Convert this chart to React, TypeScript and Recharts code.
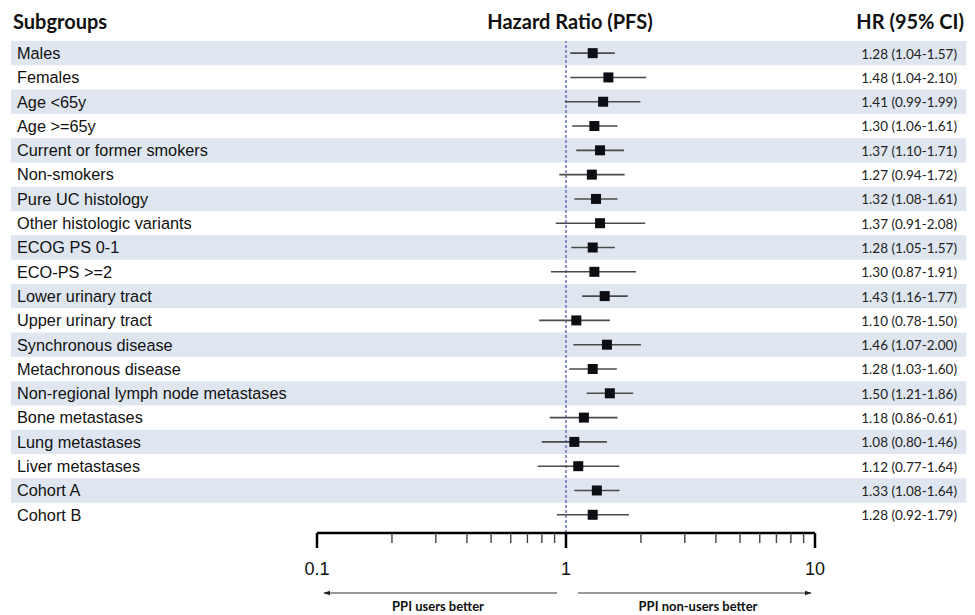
import React from "react"
import {
  ScatterChart,
  Scatter,
  XAxis,
  YAxis,
  ErrorBar,
  ReferenceArea,
  ReferenceLine,
} from "recharts"

const subgroups = [
  "Males",
  "Females",
  "Age <65y",
  "Age >=65y",
  "Current or former smokers",
  "Non-smokers",
  "Pure UC histology",
  "Other histologic variants",
  "ECOG PS 0-1",
  "ECO-PS >=2",
  "Lower urinary tract",
  "Upper urinary tract",
  "Synchronous disease",
  "Metachronous disease",
  "Non-regional lymph node metastases",
  "Bone metastases",
  "Lung metastases",
  "Liver metastases",
  "Cohort A",
  "Cohort B",
]

const hr = [1.28, 1.48, 1.41, 1.3, 1.37, 1.27, 1.32, 1.37, 1.28, 1.3, 1.43, 1.1, 1.46, 1.28, 1.5, 1.18, 1.08, 1.12, 1.33, 1.28]
const ciLow = [1.04, 1.04, 0.99, 1.06, 1.1, 0.94, 1.08, 0.91, 1.05, 0.87, 1.16, 0.78, 1.07, 1.03, 1.21, 0.86, 0.8, 0.77, 1.08, 0.92]
// bone metastases whisker is drawn up to ~1.61 in the picture
const ciHigh = [1.57, 2.1, 1.99, 1.61, 1.71, 1.72, 1.61, 2.08, 1.57, 1.91, 1.77, 1.5, 2.0, 1.6, 1.86, 1.61, 1.46, 1.64, 1.64, 1.79]

const hrLabels = [
  "1.28 (1.04-1.57)",
  "1.48 (1.04-2.10)",
  "1.41 (0.99-1.99)",
  "1.30 (1.06-1.61)",
  "1.37 (1.10-1.71)",
  "1.27 (0.94-1.72)",
  "1.32 (1.08-1.61)",
  "1.37 (0.91-2.08)",
  "1.28 (1.05-1.57)",
  "1.30 (0.87-1.91)",
  "1.43 (1.16-1.77)",
  "1.10 (0.78-1.50)",
  "1.46 (1.07-2.00)",
  "1.28 (1.03-1.60)",
  "1.50 (1.21-1.86)",
  "1.18 (0.86-0.61)",
  "1.08 (0.80-1.46)",
  "1.12 (0.77-1.64)",
  "1.33 (1.08-1.64)",
  "1.28 (0.92-1.79)",
]

const xTicks = [0.1, 0.2, 0.3, 0.4, 0.5, 0.6, 0.7, 0.8, 0.9, 1, 2, 3, 4, 5, 6, 7, 8, 9, 10]
const majorTicks = [0.1, 1, 10]
const rowTicks = subgroups.map((_, i) => i)

const data = subgroups.map((name, i) => ({
  idx: i,
  name,
  hr: hr[i],
  err: [hr[i] - ciLow[i], ciHigh[i] - hr[i]],
}))

const calibriLike = "Lato, 'Open Sans', sans-serif"
const arialLike = "'Liberation Sans', Arial, sans-serif"

// row label on the left + HR (95% CI) text on the right
const RowTick = (props: any) => {
  const { y, payload } = props
  return (
    <g>
      <text x={17} y={y} dy="0.36em" fontFamily={arialLike} fontSize={16.3} fill="#111">
        {subgroups[payload.value]}
      </text>
      <text x={957} y={y} dy="0.4em" textAnchor="end" fontFamily={calibriLike} fontSize={13.5} fill="#222">
        {hrLabels[payload.value]}
      </text>
    </g>
  )
}

const XTick = (props: any) => {
  const { x, y, payload } = props
  const major = majorTicks.includes(payload.value)
  return (
    <g>
      <line
        x1={x}
        x2={x}
        y1={y}
        y2={y + (major ? 15 : 10)}
        stroke={major ? "#000" : "#444"}
        strokeWidth={major ? 2.5 : 1.4}
      />
      {major && (
        <text x={x} y={y + 42} textAnchor="middle" fontFamily={arialLike} fontSize={18} fill="#111">
          {payload.value}
        </text>
      )}
    </g>
  )
}

const Square = (props: any) => (
  <rect x={props.cx - 5} y={props.cy - 5} width={10} height={10} fill="#0d0d14" />
)

export default function App() {
  return (
    <div style={{ position: "absolute", left: 0, top: 0, width: 975, height: 615, background: "#fff" }}>
      <ScatterChart width={975} height={615} margin={{ top: 41, right: 160, bottom: 0, left: 0 }}>
        {rowTicks
          .filter((i) => i % 2 === 0)
          .map((i) => (
            <ReferenceArea
              key={`band-${i}`}
              yAxisId="left"
              x1={0.0059}
              x2={40.5}
              y1={i - 0.5}
              y2={i + 0.5}
              fill="#dfe6f0"
              fillOpacity={1}
              stroke="none"
              ifOverflow="visible"
            />
          ))}
        <XAxis
          type="number"
          dataKey="hr"
          scale="log"
          domain={[0.1, 10]}
          ticks={xTicks}
          interval={0}
          allowDataOverflow
          height={82}
          tickSize={0}
          tickMargin={0}
          tickLine={false}
          axisLine={{ stroke: "#000", strokeWidth: 2.5 }}
          tick={<XTick />}
        />
        <YAxis
          yAxisId="left"
          type="number"
          dataKey="idx"
          domain={[-0.5, 19.75]}
          reversed
          ticks={rowTicks}
          interval={0}
          width={317}
          tickLine={false}
          axisLine={false}
          tick={<RowTick />}
        />
        <ReferenceLine
          yAxisId="left"
          x={1}
          stroke="#6a70bd"
          strokeWidth={1.5}
          strokeDasharray="3 2"
        />
        <Scatter yAxisId="left" data={data} shape={<Square />} isAnimationActive={false}>
          <ErrorBar dataKey="err" direction="x" width={0} stroke="#4a4a4a" strokeWidth={1.6} isAnimationActive={false} />
        </Scatter>
      </ScatterChart>
      <svg
        width={975}
        height={615}
        style={{ position: "absolute", left: 0, top: 0, pointerEvents: "none" }}
      >
        <defs>
          <marker id="arrowHead" viewBox="0 0 10 10" refX="9" refY="5" markerWidth="7" markerHeight="7" orient="auto-start-reverse">
            <path d="M0,1.5 L10,5 L0,8.5 z" fill="#222" />
          </marker>
        </defs>
        <text x={13} y={29} fontFamily={calibriLike} fontWeight="bold" fontSize={20} fill="#111">
          Subgroups
        </text>
        <text x={570} y={29} textAnchor="middle" fontFamily={calibriLike} fontWeight="bold" fontSize={20} fill="#111">
          Hazard Ratio (PFS)
        </text>
        <text x={964} y={29} textAnchor="end" fontFamily={calibriLike} fontWeight="bold" fontSize={20} fill="#111">
          HR (95% CI)
        </text>
        <line x1={557} y1={593} x2={324} y2={593} stroke="#333" strokeWidth={1} markerEnd="url(#arrowHead)" />
        <line x1={578} y1={593} x2={811} y2={593} stroke="#333" strokeWidth={1} markerEnd="url(#arrowHead)" />
        <text x={438} y={611} textAnchor="middle" fontFamily={calibriLike} fontWeight="bold" fontSize={13} fill="#111">
          PPI users better
        </text>
        <text x={698} y={611} textAnchor="middle" fontFamily={calibriLike} fontWeight="bold" fontSize={13} fill="#111">
          PPI non-users better
        </text>
      </svg>
    </div>
  )
}
